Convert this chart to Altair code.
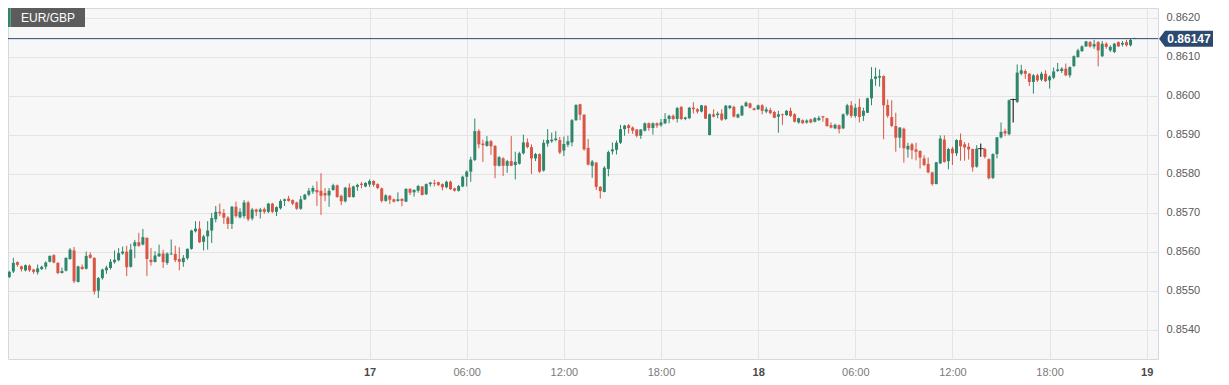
import altair as alt
import pandas as pd
import numpy as np

# EUR/GBP 15-minute candles, prices in units of 0.00001
opens = [
    85524,85536,85550,85574,85563,85553,85565,85555,85548,85556,
    85562,85575,85592,85572,85546,85552,85582,85604,85523,85562,
    85557,85593,85585,85501,85533,85553,85559,85574,85579,85596,
    85601,85562,85615,85625,85619,85636,85580,85574,85589,85596,
    85572,85594,85595,85582,85574,85584,85608,85653,85660,85626,
    85640,85655,85684,85703,85700,85688,85672,85716,85689,85692,
    85727,85686,85709,85703,85710,85703,85724,85703,85712,85731,
    85737,85733,85727,85711,85735,85747,85755,85759,85757,85751,
    85745,85759,85771,85744,85730,85765,85741,85767,85775,85768,
    85773,85782,85774,85763,85731,85744,85735,85731,85736,85729,
    85762,85753,85757,85768,85748,85774,85777,85779,85774,85766,
    85780,85763,85757,85768,85793,85806,85836,85910,85878,85872,
    85884,85872,85821,85840,85821,85833,85823,85826,85853,85881,
    85869,85840,85851,85809,85878,85884,85887,85887,85860,85875,
    85881,85938,85979,85952,85867,85821,85829,85767,85754,85813,
    85858,85862,85880,85915,85925,85919,85914,85898,85911,85930,
    85918,85930,85925,85930,85941,85949,85941,85972,85941,85943,
    85970,85966,85960,85975,85900,85953,85951,85955,85941,85969,
    85972,85945,85950,85974,85981,85968,85966,85976,85960,85964,
    85959,85947,85953,85951,85962,85953,85932,85938,85932,85940,
    85934,85938,85948,85943,85925,85917,85925,85917,85953,85976,
    85949,85972,85949,85957,85994,86044,86047,86051,85977,85946,
    85923,85893,85916,85863,85876,85863,85859,85840,85826,85804,
    85774,85827,85888,85833,85865,85853,85887,85876,85870,85864,
    85819,85865,85864,85838,85790,85851,85894,85910,85902,85991,
    85985,86057,86064,86057,86036,86053,86042,86057,86040,86047,
    86064,86064,86070,86053,86077,86100,86115,86127,86138,86127,
    86138,86102,86134,86117,86113,86138,86132,86138,86130,86146,
]
highs = [
    85548,85552,85585,85576,85565,85568,85568,85557,85568,85565,
    85576,85591,85594,85574,85560,85586,85610,85613,85565,85568,
    85601,85599,85586,85536,85557,85565,85582,85604,85610,85614,
    85616,85621,85631,85649,85659,85638,85610,85602,85619,85606,
    85599,85632,85616,85612,85592,85609,85657,85679,85679,85644,
    85679,85700,85718,85724,85710,85692,85718,85729,85712,85733,
    85731,85713,85711,85713,85714,85726,85726,85717,85735,85737,
    85744,85735,85729,85744,85749,85764,85770,85781,85802,85764,
    85764,85775,85773,85747,85767,85776,85770,85775,85779,85779,
    85786,85784,85776,85765,85748,85746,85737,85753,85738,85763,
    85763,85761,85772,85769,85776,85780,85785,85780,85776,85783,
    85783,85765,85772,85796,85809,85844,85942,85915,85888,85897,
    85887,85874,85846,85843,85836,85897,85857,85857,85901,85891,
    85876,85854,85853,85888,85915,85906,85910,85895,85896,85898,
    85941,85979,85980,85953,85890,85836,85831,85769,85820,85860,
    85881,85886,85926,85926,85928,85922,85915,85915,85932,85932,
    85932,85932,85941,85956,85952,85953,85972,85974,85947,85972,
    85984,85969,85977,85976,85955,85966,85960,85966,85977,85977,
    85975,85955,85977,85986,85983,85970,85978,85979,85972,85970,
    85962,85962,85955,85964,85970,85956,85944,85940,85940,85942,
    85946,85949,85949,85944,85932,85929,85927,85955,85980,85987,
    85980,85993,85970,85996,86074,86073,86068,86053,85991,85989,
    85957,85920,85919,85880,85880,85880,85861,85848,85842,85806,
    85831,85899,85899,85867,85870,85889,85904,85882,85880,85865,
    85874,85878,85867,85840,85853,85895,85932,85916,85991,85993,
    86081,86080,86068,86059,86056,86057,86062,86066,86053,86073,
    86085,86074,86083,86076,86104,86121,86130,86141,86141,86144,
    86141,86141,86138,86130,86136,86140,86141,86144,86147,86149,
]
lows = [
    85522,85533,85546,85562,85550,85550,85549,85544,85542,85554,
    85555,85573,85571,85543,85545,85550,85580,85520,85522,85555,
    85555,85583,85491,85482,85529,85544,85555,85570,85576,85593,
    85538,85560,85584,85613,85617,85538,85565,85574,85587,85559,
    85567,85592,85574,85553,85562,85580,85606,85650,85623,85604,
    85606,85623,85676,85692,85672,85659,85659,85688,85686,85686,
    85679,85681,85692,85686,85698,85700,85700,85692,85709,85718,
    85729,85720,85708,85708,85733,85743,85749,85718,85695,85730,
    85716,85757,85739,85720,85727,85739,85739,85757,85763,85766,
    85767,85767,85761,85727,85729,85723,85727,85729,85717,85728,
    85746,85742,85752,85745,85746,85768,85768,85769,85758,85763,
    85759,85755,85755,85766,85768,85780,85833,85866,85831,85870,
    85849,85789,85819,85795,85803,85820,85786,85824,85850,85866,
    85800,85833,85803,85806,85870,85880,85884,85851,85846,85869,
    85871,85936,85938,85860,85822,85790,85759,85737,85753,85794,
    85850,85850,85877,85898,85904,85903,85894,85890,85909,85911,
    85901,85918,85921,85928,85930,85938,85932,85938,85938,85941,
    85955,85955,85958,85941,85899,85945,85943,85936,85938,85966,
    85945,85943,85949,85972,85968,85963,85964,85953,85956,85953,
    85943,85906,85926,85949,85946,85932,85929,85929,85929,85930,
    85932,85936,85934,85921,85917,85915,85904,85915,85949,85944,
    85944,85932,85936,85956,85976,86026,86024,85889,85944,85920,
    85857,85867,85829,85842,85838,85835,85814,85820,85802,85770,
    85774,85826,85829,85812,85823,85846,85834,85834,85837,85806,
    85816,85844,85840,85786,85787,85840,85891,85897,85899,85932,
    85982,86053,86044,86026,86006,86036,86038,86036,86019,86043,
    86062,86059,86051,86047,86074,86098,86113,86126,86124,86121,
    86076,86100,86121,86113,86110,86126,86127,86127,86127,86146,
]
closes = [
    85546,85549,85572,85567,85556,85566,85553,85549,85558,85562,
    85573,85590,85573,85546,85551,85585,85606,85525,85563,85556,
    85590,85585,85499,85533,85555,85560,85575,85580,85597,85601,
    85561,85606,85625,85616,85638,85582,85574,85591,85596,85574,
    85596,85596,85579,85575,85585,85608,85655,85660,85625,85640,
    85655,85687,85703,85699,85688,85672,85716,85692,85703,85727,
    85684,85709,85703,85709,85703,85724,85703,85715,85731,85735,
    85731,85724,85711,85735,85747,85757,85764,85753,85744,85745,
    85757,85771,85741,85730,85765,85741,85768,85772,85772,85777,
    85782,85772,85764,85731,85745,85734,85729,85735,85731,85762,
    85752,85759,85769,85746,85774,85778,85775,85772,85766,85780,
    85761,85757,85769,85793,85806,85837,85910,85876,85874,85884,
    85871,85821,85843,85821,85833,85821,85831,85853,85881,85869,
    85840,85851,85806,85880,85887,85888,85891,85855,85877,85884,
    85938,85977,85952,85863,85824,85832,85767,85756,85816,85856,
    85863,85880,85915,85924,85918,85911,85898,85914,85930,85918,
    85930,85924,85932,85941,85949,85941,85969,85941,85945,85970,
    85966,85960,85976,85942,85953,85947,85955,85939,85975,85975,
    85947,85953,85974,85983,85970,85964,85976,85962,85966,85956,
    85944,85953,85951,85962,85949,85934,85943,85930,85937,85932,
    85943,85944,85945,85923,85919,85926,85915,85953,85976,85949,
    85970,85946,85962,85994,86043,86050,86051,85976,85949,85923,
    85893,85919,85866,85872,85861,85857,85842,85823,85804,85774,
    85830,85891,85831,85864,85853,85887,85871,85868,85863,85817,
    85865,85865,85844,85789,85851,85894,85908,85904,85989,85991,
    86060,86066,86057,86036,86053,86040,86057,86038,86050,86063,
    86068,86070,86053,86074,86102,86117,86127,86140,86127,86133,
    86117,86134,86126,86126,86134,86127,86136,86130,86144,86148,
]
last_price = 0.86147
symbol_name = "EUR/GBP"
y_ticks = [0.8540, 0.8550, 0.8560, 0.8570, 0.8580, 0.8590, 0.8600, 0.8610, 0.8620]

n = len(opens)
assert len(highs) == n and len(lows) == n and len(closes) == n
times = pd.date_range("2025-06-16 01:30", periods=n, freq="15min")

df = pd.DataFrame({
    "t": times.strftime("%Y-%m-%dT%H:%M:%SZ"),
    "open": np.array(opens) / 1e5,
    "high": np.array(highs) / 1e5,
    "low": np.array(lows) / 1e5,
    "close": np.array(closes) / 1e5,
})
df["dir"] = np.where(df["close"] > df["open"], "up",
                     np.where(df["close"] < df["open"], "down", "flat"))

GREEN = "#2e866c"
RED = "#d95544"
NAVY = "#2c4a70"
FONT = "Liberation Sans"

def dt(d, h, m=0, s=0):
    return alt.DateTime(year=2025, month=6, date=d, hours=h, minutes=m, seconds=s, utc=True)

xscale = alt.Scale(type="utc", domain=[dt(16, 1, 58, 42), dt(19, 0, 23, 12)], nice=False)
yscale = alt.Scale(domain=[0.853256, 0.862256], zero=False, nice=False)

is_day = "utchours(datum.value) == 0"
xaxis = alt.Axis(
    values=[dt(17, 0), dt(17, 6), dt(17, 12), dt(17, 18), dt(18, 0),
            dt(18, 6), dt(18, 12), dt(18, 18), dt(19, 0)],
    labelExpr=f"{is_day} ? utcFormat(datum.value, '%d') : utcFormat(datum.value, '%H:%M')",
    labelFontWeight={"condition": {"test": is_day, "value": "bold"}, "value": "normal"},
    labelColor={"condition": {"test": is_day, "value": "#4a4a4a"}, "value": "#7a7a7a"},
    ticks=False, domain=False, grid=True, gridColor="#e4e4e4",
    labelPadding=7, labelFontSize=11, labelFont=FONT, title=None,
    labelFlush=False, labelOverlap=False,
)
yaxis = alt.Axis(
    orient="right", values=y_ticks, format=".4f", ticks=False, domain=False,
    grid=True, gridColor="#e4e4e4", labelPadding=8, labelFontSize=11,
    labelColor="#5a5a5a", labelFont=FONT, title=None,
)

color = alt.Color("dir:N", scale=alt.Scale(domain=["up", "down", "flat"],
                                           range=[GREEN, RED, "#000000"]), legend=None)
X = alt.X("t:T", scale=xscale, axis=xaxis)

base = alt.Chart(df)
wicks = base.mark_rule(strokeWidth=1, clip=True).encode(
    x=X, y=alt.Y("low:Q", scale=yscale, axis=yaxis), y2="high:Q", color=color)
bodies = base.mark_bar(size=3, clip=True).encode(
    x=X, y=alt.Y("open:Q", scale=yscale, axis=yaxis), y2="close:Q", color=color)
dojis = base.transform_filter("datum.dir == 'flat'").mark_tick(
    orient="horizontal", size=6, thickness=1, clip=True, color="#000000").encode(
    x=X, y=alt.Y("open:Q", scale=yscale, axis=yaxis))

last_df = pd.DataFrame({"price": [last_price], "label": [f"{last_price:.5f}"]})
price_line = alt.Chart(last_df).mark_rule(color=NAVY, strokeWidth=1).encode(
    y=alt.Y("price:Q", scale=yscale, axis=yaxis))
tag = alt.Chart(last_df).mark_point(
    shape="M -1.25 0 L -1 -0.333 L 1 -0.333 L 1 0.333 L -1 0.333 Z",
    size=2304, filled=True, opacity=1, color=NAVY, clip=False).encode(
    x=alt.value(1181), y=alt.Y("price:Q", scale=yscale, axis=yaxis))
tag_text = alt.Chart(last_df).mark_text(
    color="white", fontWeight="bold", fontSize=12, font=FONT, align="center",
    baseline="middle", clip=False).encode(
    x=alt.value(1181), y=alt.Y("price:Q", scale=yscale, axis=yaxis), text="label:N")

sym_df = pd.DataFrame({"name": [symbol_name]})
sym_box = alt.Chart(sym_df).mark_rect(color="#5c5c5c").encode(
    x=alt.value(2.5), x2=alt.value(77), y=alt.value(0), y2=alt.value(19))
sym_stripe = alt.Chart(sym_df).mark_rect(color=GREEN).encode(
    x=alt.value(0), x2=alt.value(2.5), y=alt.value(0), y2=alt.value(19))
sym_text = alt.Chart(sym_df).mark_text(
    color="white", fontSize=12, font=FONT, align="center", baseline="middle").encode(
    x=alt.value(40), y=alt.value(9.5), text="name:N")

chart = alt.layer(
    wicks, bodies, dojis, price_line, tag, tag_text, sym_box, sym_stripe, sym_text
).properties(
    width=1150, height=351,
    padding={"left": 0, "top": 0, "right": 63, "bottom": 18},
    autosize=alt.AutoSizeParams(type="none"),
).configure(
    background="white", font=FONT,
).configure_view(
    fill="#f7f7f7", stroke="#d3d8e4", strokeWidth=1,
)

chart.save("out.html", embed_options={"renderer": "svg", "actions": False})
